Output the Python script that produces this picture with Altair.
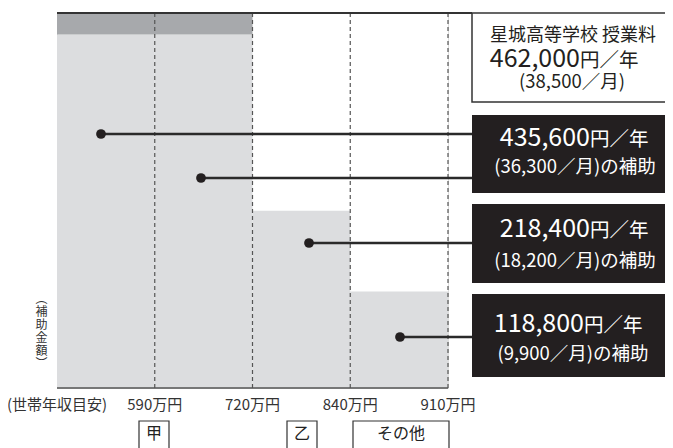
import altair as alt
import pandas as pd

FONT = "Noto Sans CJK JP"

# ---------------- data ----------------
tick_values = [0, 1, 2, 3, 4]
tick_labels = ["(世帯年収目安)", "590万円", "720万円", "840万円", "910万円"]
bracket_start = [0, 1, 2, 3]
bracket_end = [1, 2, 3, 4]
bracket_subsidy = [435600, 435600, 218400, 118800]
tuition = 462000
school_title = "星城高等学校 授業料"
tuition_year = "462,000"
tuition_month = "(38,500／月)"
unit_year = "円／年"
subsidy_year = ["435,600", "218,400", "118,800"]
subsidy_month = ["(36,300／月)の補助", "(18,200／月)の補助", "(9,900／月)の補助"]
groups = ["甲", "乙", "その他"]
y_title = "︵\n補\n助\n金\n額\n︶"

# ---------------- layout (reference page pixels) ----------------
X0, X1, Y0, Y1 = 57, 448, 388, 13
W, H = X1 - X0, Y0 - Y1


def dx(px):
    return (px - X0) * 4 / W


def dy(py):
    return (Y0 - py) * tuition / H


DARK = "#231f20"
xs = alt.Scale(domain=[0, 4], nice=False, zero=False)
ys = alt.Scale(domain=[0, tuition], nice=False, zero=False)


def X(f):
    return alt.X(f, scale=xs, axis=None)


def Y(f):
    return alt.Y(f, scale=ys, axis=None)


# bars
df_bars = pd.DataFrame({"x0": bracket_start, "x1": bracket_end,
                        "v": bracket_subsidy, "base": [0] * 4})
bars = alt.Chart(df_bars).mark_rect(color="#dcdddf").encode(
    x=X("x0:Q"), x2="x1:Q", y=Y("v:Q"), y2="base:Q")

# tuition band over the full-subsidy brackets
df_band = pd.DataFrame({"x0": [0], "x1": [2], "v0": [bracket_subsidy[0]], "v1": [tuition]})
band = alt.Chart(df_band).mark_rect(color="#a7a9ac").encode(
    x=X("x0:Q"), x2="x1:Q", y=Y("v0:Q"), y2="v1:Q")

# dashed bracket borders
df_dash = pd.DataFrame({"x": tick_values[1:], "v0": [0] * 4, "v1": [tuition] * 4})
dashed = alt.Chart(df_dash).mark_rule(color="#555", strokeWidth=1.2, strokeDash=[4, 3]).encode(
    x=X("x:Q"), y=Y("v0:Q"), y2="v1:Q")

# top line and baseline
df_top = pd.DataFrame({"x0": [0], "x1": [dx(472)], "v": [tuition]})
top_line = alt.Chart(df_top).mark_rule(color="#333", strokeWidth=2).encode(
    x=X("x0:Q"), x2="x1:Q", y=Y("v:Q"))
df_base = pd.DataFrame({"x0": [0], "x1": [4], "v": [0]})
base_line = alt.Chart(df_base).mark_rule(color="#555", strokeWidth=1.6).encode(
    x=X("x0:Q"), x2="x1:Q", y=Y("v:Q"))

# tick labels along the baseline
df_ticks = pd.DataFrame({"x": tick_values, "t": tick_labels, "v": [dy(410)] * 5})
tick_text = alt.Chart(df_ticks).mark_text(align="center", baseline="alphabetic", fontSize=15,
                                          font=FONT, color="#333").encode(
    x=X("x:Q"), y=Y("v:Q"), text="t:N")

# connector dots and lines
dot_x = [dx(101), dx(201), dx(309), dx(400)]
dot_y = [dy(134), dy(178), dy(243), dy(337)]
df_dots = pd.DataFrame({"x": dot_x, "x1": [dx(472)] * 4, "v": dot_y})
connectors = alt.Chart(df_dots).mark_rule(color="#2a2a2a", strokeWidth=2.5).encode(
    x=X("x:Q"), x2="x1:Q", y=Y("v:Q"))
dots = alt.Chart(df_dots).mark_circle(size=95, color=DARK, opacity=1).encode(
    x=X("x:Q"), y=Y("v:Q"))

# boxes
df_white = pd.DataFrame({"x0": [dx(472)], "x1": [dx(671)], "v0": [dy(13)], "v1": [dy(102)]})
white_box = alt.Chart(df_white).mark_rect(fill="white", stroke="#333", strokeWidth=1.5).encode(
    x=X("x0:Q"), x2="x1:Q", y=Y("v0:Q"), y2="v1:Q")
df_dark = pd.DataFrame({"x0": [dx(472)] * 3, "x1": [dx(680)] * 3,
                        "v0": [dy(115), dy(204), dy(294)],
                        "v1": [dy(193), dy(283), dy(377)]})
dark_boxes = alt.Chart(df_dark).mark_rect(color=DARK).encode(
    x=X("x0:Q"), x2="x1:Q", y=Y("v0:Q"), y2="v1:Q")
df_grp = pd.DataFrame({"x0": [dx(139), dx(287), dx(353)], "x1": [dx(169), dx(317), dx(449)],
                       "v0": [dy(421)] * 3, "v1": [dy(480)] * 3})
grp_boxes = alt.Chart(df_grp).mark_rect(fill="white", stroke="#333", strokeWidth=1.2).encode(
    x=X("x0:Q"), x2="x1:Q", y=Y("v0:Q"), y2="v1:Q")

# texts
rows = [
    (school_title, 573, 41, 18, "center", DARK),
    (tuition_year, 580, 67, 25, "right", DARK),
    (unit_year, 580, 67, 19.5, "left", DARK),
    (tuition_month, 572, 88, 18.5, "center", DARK),
]
split_x = [590, 590, 584]
line1_y = [146, 237, 332]
line2_y = [173, 267, 360]
line2_x = [575, 575, 573]
for i in range(3):
    rows.append((subsidy_year[i], split_x[i], line1_y[i], 25, "right", "white"))
    rows.append((unit_year, split_x[i], line1_y[i], 19.5, "left", "white"))
    rows.append((subsidy_month[i], line2_x[i], line2_y[i], 18.5, "center", "white"))
grp_cx = [154, 302, 401]
for g, cx in zip(groups, grp_cx):
    rows.append((g, cx, 439, 16, "center", "#222"))

df_text = pd.DataFrame(rows, columns=["t", "px", "py", "fs", "al", "c"])
df_text["x"] = df_text["px"].map(dx)
df_text["v"] = df_text["py"].map(dy)

text_layers = []
for al in ["left", "center", "right"]:
    sub = df_text[df_text["al"] == al][["t", "x", "v", "fs", "c"]]
    text_layers.append(
        alt.Chart(sub).mark_text(align=al, baseline="alphabetic", font=FONT).encode(
            x=X("x:Q"), y=Y("v:Q"), text="t:N",
            size=alt.Size("fs:Q", scale=None, legend=None),
            color=alt.Color("c:N", scale=None, legend=None)))

df_yt = pd.DataFrame({"t": [y_title], "x": [dx(41.5)], "v": [dy(294)]})
ytitle = alt.Chart(df_yt).mark_text(align="center", baseline="top", lineBreak="\n",
                                    lineHeight=13, fontSize=12, font=FONT,
                                    color="#333").encode(
    x=X("x:Q"), y=Y("v:Q"), text="t:N")

chart = alt.layer(
    bars, band, dashed, top_line, base_line, tick_text, connectors, dots,
    white_box, dark_boxes, grp_boxes, *text_layers, ytitle
).properties(
    width=W, height=H,
    autosize=alt.AutoSizeParams(type="none"),
    padding={"left": X0 - 8, "top": Y1 - 8, "right": 665 - X1, "bottom": 440 - (Y0 - 8)},
    background="white",
).configure_view(stroke=None).configure(font=FONT)

chart.save("out.html", embed_options={"renderer": "svg", "actions": False})
